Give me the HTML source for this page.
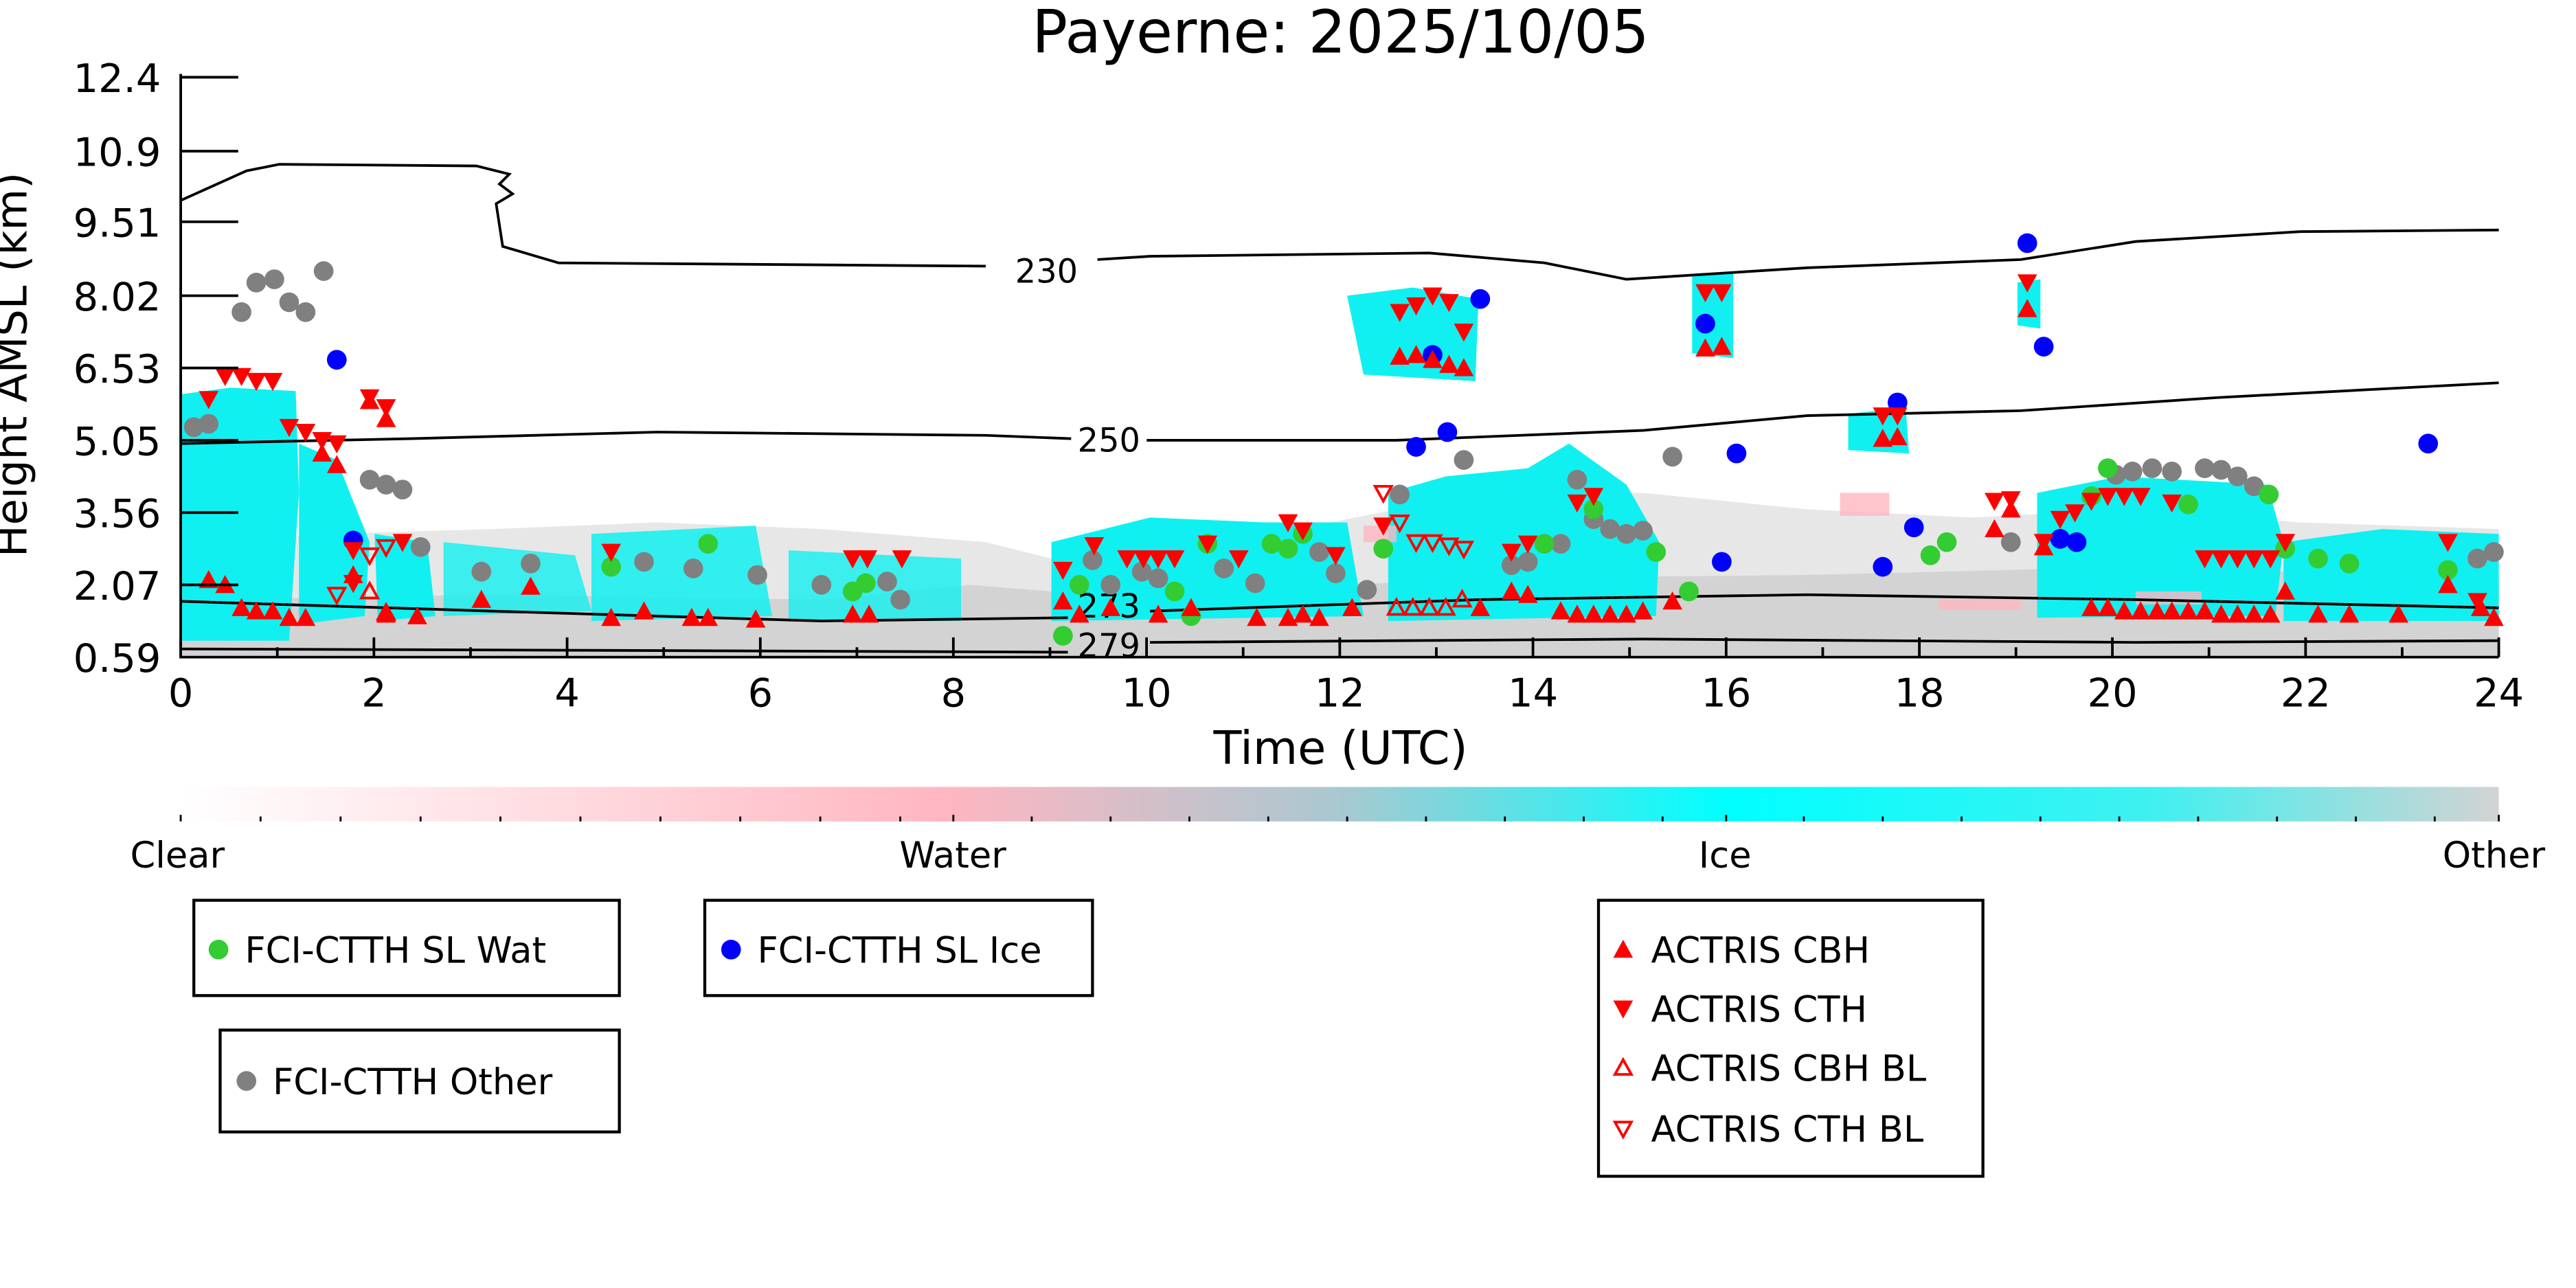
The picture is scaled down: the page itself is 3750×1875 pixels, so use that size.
<!DOCTYPE html>
<html><head><meta charset="utf-8"><style>html,body{margin:0;padding:0;background:#fff}svg{display:block}</style></head>
<body>
<svg width="3750" height="1875" viewBox="0 0 1568 784" xmlns="http://www.w3.org/2000/svg" font-family="DejaVu Sans, Liberation Sans, sans-serif">
<defs>
<linearGradient id="cb" x1="0" x2="1" y1="0" y2="0">
<stop offset="0" stop-color="#ffffff"/>
<stop offset="0.33" stop-color="#ffb6c1"/>
<stop offset="0.5" stop-color="#a9c8d0"/>
<stop offset="0.667" stop-color="#00ffff"/>
<stop offset="0.85" stop-color="#40f0f0"/>
<stop offset="1" stop-color="#d3d3d3"/>
</linearGradient>
<path id="up" d="M0,-6 L6,5 L-6,5 Z" fill="#f00"/>
<path id="dn" d="M0,6 L6,-5 L-6,-5 Z" fill="#f00"/>
<path id="ou" d="M0,-5 L5,4 L-5,4 Z" fill="none" stroke="#f00" stroke-width="1.6"/>
<path id="od" d="M0,5 L5,-4 L-5,-4 Z" fill="none" stroke="#f00" stroke-width="1.6"/>
</defs>
<rect width="1568" height="784" fill="#fff"/>
<text x="816" y="32" font-size="36" text-anchor="middle">Payerne: 2025/10/05</text>

<!-- grey background low cloud -->
<path d="M110,400 L110,330 L200,325 L300,322 L400,318 L500,322 L600,330 L640,340 L700,330 L800,320 L900,300 L1000,300 L1100,310 L1200,315 L1300,310 L1400,318 L1521,322 L1521,400 Z" fill="#d3d3d3" opacity="0.55"/>
<path d="M110,400 L110,365 L300,362 L500,365 L590,356 L640,360 L700,362 L900,352 L1100,350 L1300,345 L1521,352 L1521,400 Z" fill="#d3d3d3"/>
<!-- cyan -->
<g fill="#11f0f0">
<path d="M110,240 L140,236 L180,238 L182,300 L176,390 L110,390 Z"/>
<path d="M182,270 L205,280 L225,330 L222,375 L182,380 Z"/>
<path d="M228,325 L260,330 L265,375 L230,378 Z"/>
<path d="M270,330 L350,338 L360,372 L270,375 Z" opacity="0.8"/>
<path d="M360,325 L460,320 L470,375 L360,378 Z" opacity="0.85"/>
<path d="M480,335 L585,340 L585,378 L480,378 Z" opacity="0.8"/>
<path d="M640,330 L700,315 L770,318 L820,318 L830,375 L640,378 Z"/>
<path d="M845,300 L880,290 L930,285 L955,270 L990,295 L1010,330 L1008,375 L845,378 Z"/>
<path d="M820,180 L860,175 L900,182 L898,232 L830,228 Z"/>
<path d="M1030,168 L1055,166 L1055,218 L1030,215 Z"/>
<path d="M1125,252 L1160,248 L1162,276 L1125,274 Z"/>
<path d="M1228,172 L1242,170 L1242,200 L1228,198 Z"/>
<path d="M1240,300 L1290,290 L1380,295 L1390,330 L1385,375 L1240,376 Z"/>
<path d="M1390,330 L1450,322 L1521,325 L1521,378 L1390,378 Z"/>
</g>
<g fill="#ffb6c1" opacity="0.8">
<rect x="1120" y="300" width="30" height="14"/><rect x="1300" y="360" width="40" height="8"/><rect x="830" y="320" width="20" height="10"/><rect x="1180" y="365" width="50" height="6"/>
</g>

<!-- contours -->
<g fill="none" stroke="#000" stroke-width="1.6">
<path d="M110,122 L150,104 L170,100 L290,101 L310,106 L304,112 L312,118 L302,124 L306,150 L340,160 L600,162 M668,158 L700,156 L870,154 L940,160 L990,170 L1100,163 L1230,158 L1300,147 L1400,141 L1521,140"/>
<path d="M110,270 L250,267 L400,263 L600,265 L652,267 M698,268 L850,268 L1000,262 L1100,253 L1230,250 L1350,242 L1521,233"/>
<path d="M110,366 L300,372 L500,378 L650,376 M700,372 L900,365 L1100,362 L1300,365 L1521,370"/>
<path d="M110,395 L400,396 L650,397 M700,391 L1000,389 L1300,391 L1521,390"/>
</g>
<g font-size="20" text-anchor="middle">
<text x="637" y="172">230</text><text x="675" y="275">250</text><text x="675" y="376">273</text><text x="675" y="400">279</text>
</g>

<!-- grey dots -->
<g fill="#808080">
<circle cx="118" cy="260" r="6"/><circle cx="127" cy="258" r="6"/><circle cx="147" cy="190" r="6"/><circle cx="156" cy="172" r="6"/><circle cx="167" cy="170" r="6"/><circle cx="176" cy="184" r="6"/><circle cx="186" cy="190" r="6"/><circle cx="197" cy="165" r="6"/><circle cx="225" cy="292" r="6"/><circle cx="235" cy="295" r="6"/><circle cx="245" cy="298" r="6"/><circle cx="256" cy="333" r="6"/><circle cx="293" cy="348" r="6"/><circle cx="323" cy="343" r="6"/><circle cx="392" cy="342" r="6"/><circle cx="422" cy="346" r="6"/><circle cx="461" cy="350" r="6"/><circle cx="500" cy="356" r="6"/><circle cx="540" cy="354" r="6"/><circle cx="548" cy="365" r="6"/><circle cx="665" cy="341" r="6"/><circle cx="676" cy="356" r="6"/><circle cx="695" cy="348" r="6"/><circle cx="705" cy="352" r="6"/><circle cx="745" cy="346" r="6"/><circle cx="764" cy="355" r="6"/><circle cx="803" cy="336" r="6"/><circle cx="813" cy="349" r="6"/><circle cx="832" cy="359" r="6"/><circle cx="852" cy="301" r="6"/><circle cx="891" cy="280" r="6"/><circle cx="960" cy="292" r="6"/><circle cx="950" cy="331" r="6"/><circle cx="970" cy="316" r="6"/><circle cx="980" cy="322" r="6"/><circle cx="990" cy="325" r="6"/><circle cx="1000" cy="323" r="6"/><circle cx="1018" cy="278" r="6"/><circle cx="1224" cy="330" r="6"/><circle cx="1288" cy="289" r="6"/><circle cx="1298" cy="287" r="6"/><circle cx="1310" cy="285" r="6"/><circle cx="1322" cy="287" r="6"/><circle cx="1342" cy="285" r="6"/><circle cx="1352" cy="286" r="6"/><circle cx="1362" cy="290" r="6"/><circle cx="1372" cy="296" r="6"/><circle cx="1508" cy="340" r="6"/><circle cx="1518" cy="336" r="6"/><circle cx="930" cy="342" r="6"/><circle cx="920" cy="344" r="6"/>
</g>
<!-- green -->
<g fill="#33cc33">
<circle cx="372" cy="345" r="6"/><circle cx="431" cy="331" r="6"/><circle cx="519" cy="360" r="6"/><circle cx="527" cy="355" r="6"/><circle cx="657" cy="356" r="6"/><circle cx="647" cy="387" r="6"/><circle cx="715" cy="360" r="6"/><circle cx="725" cy="375" r="6"/><circle cx="735" cy="331" r="6"/><circle cx="774" cy="331" r="6"/><circle cx="784" cy="334" r="6"/><circle cx="793" cy="325" r="6"/><circle cx="842" cy="334" r="6"/><circle cx="940" cy="331" r="6"/><circle cx="970" cy="310" r="6"/><circle cx="1008" cy="336" r="6"/><circle cx="1028" cy="360" r="6"/><circle cx="1175" cy="338" r="6"/><circle cx="1185" cy="330" r="6"/><circle cx="1283" cy="285" r="6"/><circle cx="1273" cy="302" r="6"/><circle cx="1332" cy="307" r="6"/><circle cx="1381" cy="301" r="6"/><circle cx="1391" cy="334" r="6"/><circle cx="1411" cy="340" r="6"/><circle cx="1430" cy="343" r="6"/><circle cx="1490" cy="347" r="6"/>
</g>
<!-- blue -->
<g fill="#0000ff">
<circle cx="205" cy="219" r="6"/><circle cx="215" cy="329" r="6"/><circle cx="862" cy="272" r="6"/><circle cx="872" cy="216" r="6"/><circle cx="881" cy="263" r="6"/><circle cx="901" cy="182" r="6"/><circle cx="1038" cy="197" r="6"/><circle cx="1048" cy="342" r="6"/><circle cx="1057" cy="276" r="6"/><circle cx="1146" cy="345" r="6"/><circle cx="1155" cy="245" r="6"/><circle cx="1165" cy="321" r="6"/><circle cx="1234" cy="148" r="6"/><circle cx="1244" cy="211" r="6"/><circle cx="1254" cy="328" r="6"/><circle cx="1264" cy="330" r="6"/><circle cx="1478" cy="270" r="6"/>
</g>
<!-- CBH -->
<g>
<use href="#up" x="127" y="353"/><use href="#up" x="137" y="356"/><use href="#up" x="147" y="370"/><use href="#up" x="156" y="372"/><use href="#up" x="166" y="372"/><use href="#up" x="176" y="376"/><use href="#up" x="186" y="376"/><use href="#up" x="215" y="350"/><use href="#up" x="235" y="374"/><use href="#up" x="254" y="375"/><use href="#up" x="293" y="365"/><use href="#up" x="323" y="357"/><use href="#up" x="372" y="376"/><use href="#up" x="392" y="372"/><use href="#up" x="421" y="376"/><use href="#up" x="431" y="376"/><use href="#up" x="460" y="377"/><use href="#up" x="519" y="374"/><use href="#up" x="529" y="374"/><use href="#up" x="647" y="366"/><use href="#up" x="657" y="374"/><use href="#up" x="676" y="370"/><use href="#up" x="705" y="374"/><use href="#up" x="725" y="370"/><use href="#up" x="765" y="376"/><use href="#up" x="784" y="376"/><use href="#up" x="793" y="374"/><use href="#up" x="803" y="376"/><use href="#up" x="823" y="370"/><use href="#up" x="901" y="370"/><use href="#up" x="920" y="360"/><use href="#up" x="930" y="362"/><use href="#up" x="950" y="372"/><use href="#up" x="960" y="374"/><use href="#up" x="970" y="374"/><use href="#up" x="980" y="374"/><use href="#up" x="990" y="374"/><use href="#up" x="1000" y="372"/><use href="#up" x="1018" y="366"/><use href="#up" x="852" y="217"/><use href="#up" x="862" y="216"/><use href="#up" x="872" y="219"/><use href="#up" x="882" y="222"/><use href="#up" x="891" y="224"/><use href="#up" x="1038" y="212"/><use href="#up" x="1048" y="211"/><use href="#up" x="1146" y="267"/><use href="#up" x="1155" y="266"/><use href="#up" x="1234" y="188"/><use href="#up" x="1214" y="322"/><use href="#up" x="1244" y="333"/><use href="#up" x="1273" y="370"/><use href="#up" x="1283" y="370"/><use href="#up" x="1293" y="372"/><use href="#up" x="1303" y="372"/><use href="#up" x="1313" y="372"/><use href="#up" x="1322" y="372"/><use href="#up" x="1332" y="372"/><use href="#up" x="1342" y="372"/><use href="#up" x="1352" y="374"/><use href="#up" x="1362" y="374"/><use href="#up" x="1372" y="374"/><use href="#up" x="1382" y="374"/><use href="#up" x="1391" y="360"/><use href="#up" x="1411" y="374"/><use href="#up" x="1430" y="374"/><use href="#up" x="1460" y="374"/><use href="#up" x="1490" y="356"/><use href="#up" x="1510" y="370"/><use href="#up" x="1518" y="376"/><use href="#up" x="196" y="276"/><use href="#up" x="205" y="283"/><use href="#up" x="225" y="244"/><use href="#up" x="235" y="255"/><use href="#up" x="1224" y="310"/>
</g>
<!-- CTH -->
<g>
<use href="#dn" x="127" y="243"/><use href="#dn" x="137" y="229"/><use href="#dn" x="147" y="229"/><use href="#dn" x="156" y="232"/><use href="#dn" x="166" y="232"/><use href="#dn" x="176" y="260"/><use href="#dn" x="186" y="263"/><use href="#dn" x="196" y="268"/><use href="#dn" x="205" y="270"/><use href="#dn" x="225" y="242"/><use href="#dn" x="235" y="248"/><use href="#dn" x="215" y="355"/><use href="#dn" x="245" y="330"/><use href="#dn" x="372" y="336"/><use href="#dn" x="519" y="340"/><use href="#dn" x="528" y="340"/><use href="#dn" x="549" y="340"/><use href="#dn" x="647" y="347"/><use href="#dn" x="666" y="332"/><use href="#dn" x="686" y="340"/><use href="#dn" x="696" y="340"/><use href="#dn" x="705" y="340"/><use href="#dn" x="715" y="340"/><use href="#dn" x="735" y="331"/><use href="#dn" x="754" y="340"/><use href="#dn" x="784" y="318"/><use href="#dn" x="793" y="323"/><use href="#dn" x="813" y="338"/><use href="#dn" x="842" y="320"/><use href="#dn" x="852" y="190"/><use href="#dn" x="862" y="186"/><use href="#dn" x="872" y="180"/><use href="#dn" x="882" y="184"/><use href="#dn" x="891" y="202"/><use href="#dn" x="1038" y="178"/><use href="#dn" x="1048" y="178"/><use href="#dn" x="1146" y="253"/><use href="#dn" x="1155" y="253"/><use href="#dn" x="1224" y="304"/><use href="#dn" x="1234" y="172"/><use href="#dn" x="1244" y="330"/><use href="#dn" x="1254" y="316"/><use href="#dn" x="1263" y="312"/><use href="#dn" x="1273" y="305"/><use href="#dn" x="1283" y="302"/><use href="#dn" x="1293" y="302"/><use href="#dn" x="1303" y="302"/><use href="#dn" x="1322" y="306"/><use href="#dn" x="1342" y="340"/><use href="#dn" x="1352" y="340"/><use href="#dn" x="1362" y="340"/><use href="#dn" x="1372" y="340"/><use href="#dn" x="1382" y="340"/><use href="#dn" x="1391" y="330"/><use href="#dn" x="1490" y="330"/><use href="#dn" x="1508" y="366"/><use href="#dn" x="920" y="336"/><use href="#dn" x="930" y="331"/><use href="#dn" x="960" y="306"/><use href="#dn" x="970" y="302"/><use href="#dn" x="1214" y="305"/><use href="#dn" x="215" y="335"/>
</g>
<g>
<use href="#ou" x="225" y="360"/><use href="#ou" x="235" y="373"/><use href="#ou" x="850" y="370"/><use href="#ou" x="860" y="370"/><use href="#ou" x="870" y="370"/><use href="#ou" x="880" y="370"/><use href="#ou" x="890" y="365"/>
<use href="#od" x="225" y="338"/><use href="#od" x="235" y="333"/><use href="#od" x="842" y="300"/><use href="#od" x="852" y="318"/><use href="#od" x="862" y="330"/><use href="#od" x="872" y="330"/><use href="#od" x="882" y="332"/><use href="#od" x="891" y="334"/><use href="#od" x="205" y="362"/>
</g>

<!-- axes -->
<g stroke="#000" stroke-width="1.6" fill="none">
<path d="M110,45 L110,400 L1521,400"/>
<path d="M110,47h35M110,92h35M110,135h35M110,180h35M110,224h35M110,268h35M110,312h35M110,356h35"/>
<path d="M110,400v-12M227.6,400v-12M345.2,400v-12M462.8,400v-12M580.3,400v-12M697.9,400v-12M815.5,400v-12M933.1,400v-12M1050.7,400v-12M1168.3,400v-12M1285.8,400v-12M1403.4,400v-12M1521,400v-12"/>
<path d="M168.8,400v-6M286.4,400v-6M404,400v-6M521.6,400v-6M639.1,400v-6M756.7,400v-6M874.3,400v-6M991.9,400v-6M1109.5,400v-6M1227.1,400v-6M1344.6,400v-6M1462.2,400v-6"/>
</g>
<g font-size="24" text-anchor="end">
<text x="98" y="56">12.4</text><text x="98" y="101">10.9</text><text x="98" y="144">9.51</text><text x="98" y="189">8.02</text><text x="98" y="233">6.53</text><text x="98" y="277">5.05</text><text x="98" y="321">3.56</text><text x="98" y="365">2.07</text><text x="98" y="409">0.59</text>
</g>
<g font-size="24" text-anchor="middle">
<text x="110" y="430">0</text><text x="227.6" y="430">2</text><text x="345.2" y="430">4</text><text x="462.8" y="430">6</text><text x="580.3" y="430">8</text><text x="697.9" y="430">10</text><text x="815.5" y="430">12</text><text x="933.1" y="430">14</text><text x="1050.7" y="430">16</text><text x="1168.3" y="430">18</text><text x="1285.8" y="430">20</text><text x="1403.4" y="430">22</text><text x="1521" y="430">24</text>
</g>
<text x="816" y="465" font-size="28" text-anchor="middle">Time (UTC)</text>
<text transform="translate(16,222) rotate(-90)" font-size="26" text-anchor="middle">Height AMSL (km)</text>

<!-- colorbar -->
<rect x="110" y="479" width="1411" height="21" fill="url(#cb)"/>
<g stroke="#000" stroke-width="1.2">
<path d="M110,500v-4M158.6,500v-3M207.3,500v-3M256,500v-3M304.6,500v-3M353.3,500v-3M402,500v-3M450.6,500v-3M499.3,500v-3M548,500v-3M580.3,500v-4M628,500v-3M676,500v-3M724,500v-3M772,500v-3M820,500v-3M868,500v-3M916,500v-3M964,500v-3M1012,500v-3M1050.7,500v-4M1098,500v-3M1146,500v-3M1194,500v-3M1242,500v-3M1290,500v-3M1338,500v-3M1386,500v-3M1434,500v-3M1482,500v-3M1521,500v-4"/>
</g>
<g font-size="22" text-anchor="middle">
<text x="108" y="528">Clear</text><text x="580" y="528">Water</text><text x="1050" y="528">Ice</text><text x="1518" y="528">Other</text>
</g>

<!-- legends -->
<g fill="none" stroke="#000" stroke-width="1.8">
<rect x="118" y="548" width="259" height="58"/><rect x="429" y="548" width="236" height="58"/><rect x="134" y="627" width="243" height="62"/><rect x="973" y="548" width="234" height="168"/>
</g>
<g font-size="22">
<circle cx="133" cy="578" r="6" fill="#33cc33"/><text x="149" y="586">FCI-CTTH SL Wat</text>
<circle cx="445" cy="578" r="6" fill="#0000ff"/><text x="461" y="586">FCI-CTTH SL Ice</text>
<circle cx="150" cy="658" r="6" fill="#808080"/><text x="166" y="666">FCI-CTTH Other</text>
<use href="#up" x="988" y="578"/><text x="1005" y="586">ACTRIS CBH</text>
<use href="#dn" x="988" y="614"/><text x="1005" y="622">ACTRIS CTH</text>
<use href="#ou" x="988" y="650"/><text x="1005" y="658">ACTRIS CBH BL</text>
<use href="#od" x="988" y="687"/><text x="1005" y="695">ACTRIS CTH BL</text>
</g>
</svg>
</body></html>
